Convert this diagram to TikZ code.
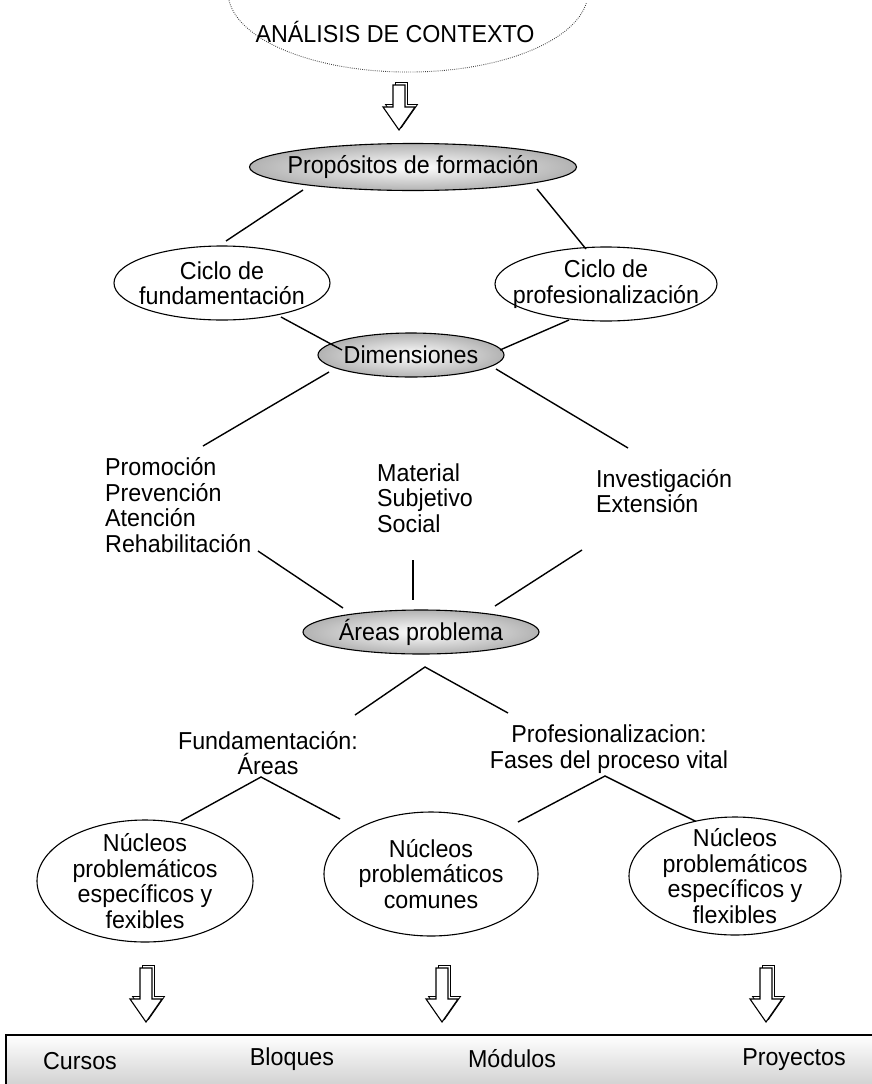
\documentclass[tikz,border=0pt]{standalone}
\usepackage{fontspec}
\setmainfont{Liberation Sans}[FakeStretch=0.95]
\usetikzlibrary{shapes.geometric}
\begin{document}
\begin{tikzpicture}[x=1pt,y=-1pt,
  lbl/.style={font=\fontsize{24.5}{25.5}\selectfont, align=center, inner sep=0pt},
  lbll/.style={lbl, align=left, anchor=west},
  ell/.style={ellipse, draw, line width=1.1pt, inner sep=0pt, fill=white},
  grayell/.style={ell, shade, inner color=white, outer color=black!30},
  ln/.style={line width=1.4pt},
  % hollow block arrow with a small extruded back face; #1 = total length
  pics/blockarrow/.style={code={
    \draw[line width=0.8pt, fill=white, shift={(2.5,-2.5)}]
      (-6,-#1) -- (6,-#1) -- (6,-23) -- (16,-23) -- (0,0) -- (-16,-23) -- (-6,-23) -- cycle;
    \draw[line width=1.1pt, fill=white]
      (-6,-#1) -- (6,-#1) -- (6,-23) -- (16,-23) -- (0,0) -- (-16,-23) -- (-6,-23) -- cycle;
  }}
]
\useasboundingbox (0,0) rectangle (872,1084);

% context cloud at the top
\draw[line width=0.9pt, black!75, dash pattern=on 0.8pt off 1.3pt]
  (229,0.4) arc[start angle=174, end angle=8, x radius=180, y radius=80];
\node[lbl] (ctx) at (395,32) {ANÁLISIS DE CONTEXTO};
\pic at (399,130) {blockarrow=45};

% purposes and cycles
\node[grayell, minimum width=327pt, minimum height=47pt] (prop) at (413,167) {};
\node[lbl] (propt) at (prop) {Propósitos de formación};

\node[ell, minimum width=216pt, minimum height=74pt] (cf) at (222,283) {};
\node[lbl] (cft) at (cf) {Ciclo de\\fundamentación};
\node[ell, minimum width=222pt, minimum height=74pt] (cp) at (606,284) {};
\node[lbl] (cpt) at (cp) {Ciclo de\\profesionalización};

\node[grayell, minimum width=186pt, minimum height=44pt] (dim) at (411,355) {};
\node[lbl] (dimt) at (dim) {Dimensiones};

\coordinate (p1) at (303,190); \coordinate (c1) at (226,241);
\coordinate (p2) at (537,189); \coordinate (c2) at (586,249);
\draw[ln] (p1) -- (c1);
\draw[ln] (p2) -- (c2);
\coordinate (c3) at (281,317); \coordinate (d1) at (342,350);
\coordinate (c4) at (569,320); \coordinate (d2) at (500,350);
\draw[ln] (c3) -- (d1);
\draw[ln] (c4) -- (d2);

% dimension lists
\node[lbll] (la) at (105,505) {Promoción\\Prevención\\Atención\\Rehabilitación};
\node[lbll] (lb) at (377,498) {Material\\Subjetivo\\Social};
\node[lbll] (lc) at (596,491) {Investigación\\Extensión};

\coordinate (d3) at (329,372); \coordinate (a1) at (203,446);
\coordinate (d4) at (496,369); \coordinate (a3) at (628,448);
\draw[ln] (d3) -- (a1);
\draw[ln] (d4) -- (a3);

% problem areas
\node[grayell, minimum width=236pt, minimum height=44pt] (area) at (421,632) {};
\node[lbl] (areat) at (area) {Áreas problema};

\coordinate (b1) at (258,551); \coordinate (e1) at (343,608);
\coordinate (b2) at (413,560); \coordinate (e2) at (413,600);
\coordinate (b3) at (582,550); \coordinate (e3) at (495,606);
\draw[ln] (b1) -- (e1);
\draw[ln] (b2) -- (e2);
\draw[ln] (b3) -- (e3);

\coordinate (v1) at (355,715); \coordinate (v0) at (425,667); \coordinate (v2) at (508,713);
\draw[ln] (v1) -- (v0) -- (v2);

\node[lbl] (fund) at (268,753) {Fundamentación:\\Áreas};
\node[lbl] (prof) at (609,749) {Profesionalizacion:\\Fases del proceso vital};

\coordinate (w1) at (181,821); \coordinate (w0) at (261,777); \coordinate (w2) at (340,819);
\draw[ln] (w1) -- (w0) -- (w2);
\coordinate (x1) at (518,822); \coordinate (x0) at (605,776); \coordinate (x2) at (697,822);
\draw[ln] (x1) -- (x0) -- (x2);

% problem cores
\node[ell, minimum width=216pt, minimum height=122pt] (n1) at (145,881) {};
\node[lbl] (n1t) at (n1) {Núcleos\\problemáticos\\específicos y\\fexibles};
\node[ell, minimum width=214pt, minimum height=124pt] (n2) at (431,874) {};
\node[lbl] (n2t) at (n2) {Núcleos\\problemáticos\\comunes};
\node[ell, minimum width=212pt, minimum height=118pt] (n3) at (735,876) {};
\node[lbl] (n3t) at (n3) {Núcleos\\problemáticos\\específicos y\\flexibles};

\pic at (146,1022) {blockarrow=54};
\pic at (442,1022) {blockarrow=54};
\pic at (766,1022) {blockarrow=54};

% bottom bar
\node[draw, line width=1.2pt, rectangle, minimum width=880pt, minimum height=62pt,
      top color=white, bottom color=black!22, inner sep=0pt] (bar) at (446,1066) {};
\node[lbl] (k1) at (80,1061) {Cursos};
\node[lbl] (k2) at (292,1059) {Bloques};
\node[lbl] (k3) at (512,1059) {Módulos};
\node[lbl] (k4) at (794,1060) {Proyectos};
\end{tikzpicture}
\end{document}
